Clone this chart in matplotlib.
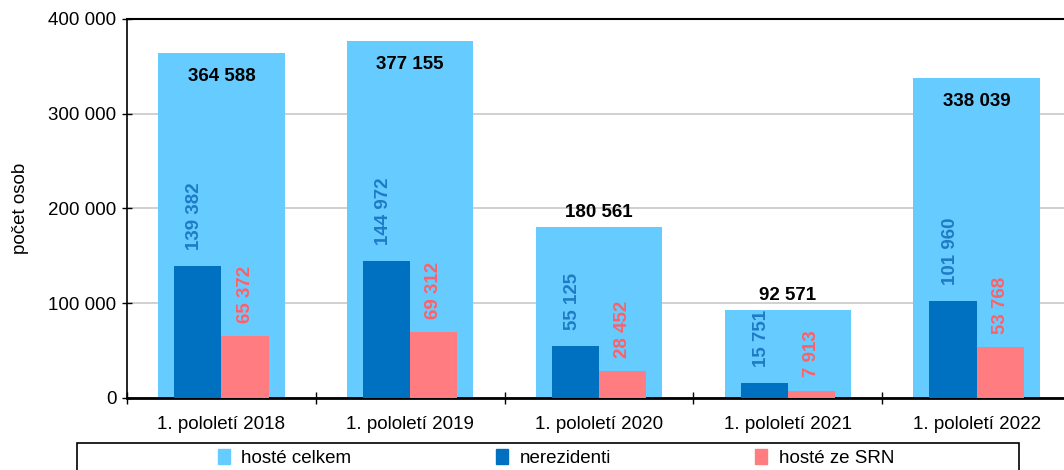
import matplotlib
matplotlib.use("Agg")
import matplotlib.pyplot as plt
import numpy as np
from matplotlib.patches import Patch, Rectangle

plt.rcParams['font.family'] = ['Liberation Sans', 'DejaVu Sans']

categories = ["1. pololetí 2018", "1. pololetí 2019", "1. pololetí 2020",
              "1. pololetí 2021", "1. pololetí 2022"]
hoste_celkem = [364588, 377155, 180561, 92571, 338039]
nerezidenti = [139382, 144972, 55125, 15751, 101960]
hoste_srn = [65372, 69312, 28452, 7913, 53768]
yticks = [0, 100000, 200000, 300000, 400000]
ytick_labels = ["0", "100 000", "200 000", "300 000", "400 000"]
series_names = ["hosté celkem", "nerezidenti", "hosté ze SRN"]

c_total = "#66CCFF"
c_nonres = "#0070C0"
c_srn = "#FF7C80"
c_nonres_txt = "#1F7BC6"
c_srn_txt = "#FF6066"

FS = 13.5

def fmt(v):
    return f"{v:,}".replace(",", " ")

fig = plt.figure(figsize=(10.64, 4.70), dpi=100)
ax = fig.add_axes([127/1064, 72/470, 944/1064, 379/470])

x = np.arange(len(categories))
ax.bar(x, hoste_celkem, width=0.67, color=c_total, zorder=2)
ax.bar(x - 0.125, nerezidenti, width=0.25, color=c_nonres, zorder=3)
ax.bar(x + 0.125, hoste_srn, width=0.25, color=c_srn, zorder=3)

for xi, v in zip(x, hoste_celkem):
    off = -17 if v > 300000 else 10.5
    ax.annotate(fmt(v), (xi, v), xytext=(0, off), textcoords="offset points",
                ha="center", va="center", fontsize=FS, fontweight="bold", color="black", zorder=5)

for xi, v in zip(x, nerezidenti):
    ax.annotate(fmt(v), (xi - 0.14, v), xytext=(0, 11.5), textcoords="offset points",
                ha="center", va="bottom", rotation=90, fontsize=FS, fontweight="bold",
                color=c_nonres_txt, zorder=5)
for xi, v in zip(x, hoste_srn):
    ax.annotate(fmt(v), (xi + 0.125, v), xytext=(0, 9.5), textcoords="offset points",
                ha="center", va="bottom", rotation=90, fontsize=FS, fontweight="bold",
                color=c_srn_txt, zorder=5)

ax.set_xlim(-0.5, len(categories) - 0.5)
ax.set_ylim(0, 400000)
ax.set_yticks(yticks)
ax.set_yticklabels(ytick_labels, fontsize=FS)
ax.yaxis.grid(True, color="#C8C8C8", linewidth=1.2, zorder=0)
ax.set_axisbelow(True)

ax.set_xticks(x)
ax.set_xticklabels(categories, fontsize=FS)
ax.set_xticks(np.arange(-0.5, len(categories), 1.0), minor=True)
ax.tick_params(axis="x", which="major", length=0, pad=13)
ax.tick_params(axis="x", which="minor", length=9, direction="inout", width=1)
ax.tick_params(axis="y", length=7, direction="inout", width=1, pad=4)

ax.spines["left"].set_linewidth(1.2)
ax.spines["bottom"].set_linewidth(2)
ax.spines["top"].set_linewidth(1.5)
ax.spines["right"].set_visible(False)

ax.set_ylabel("počet osob", fontsize=FS)
ax.yaxis.set_label_coords(-(127 - 29) / 944, 0.5)

# legend box
fig.patches.append(Rectangle((77/1064, -0.05), (1019 - 77)/1064, 1 - 443/470 + 0.05,
                             transform=fig.transFigure, fill=False, edgecolor="black",
                             linewidth=1.2))
handles = [Patch(color=c_total), Patch(color=c_nonres), Patch(color=c_srn)]
leg = fig.legend(handles, series_names, loc="center", bbox_to_anchor=(556/1064, 1 - 458/470),
                 ncol=3, frameon=False, fontsize=FS, handlelength=0.65, handleheight=0.9,
                 handletextpad=0.6, columnspacing=7.7, borderpad=0.0)

fig.savefig("out.png", dpi=100)
